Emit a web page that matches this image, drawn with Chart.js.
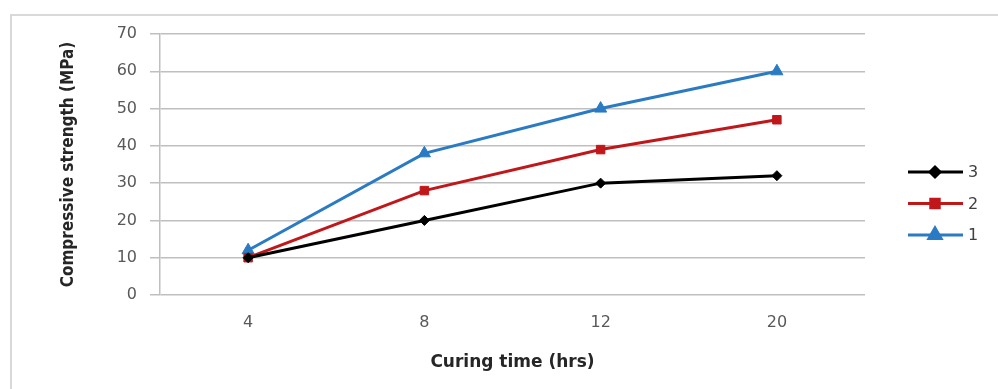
<!DOCTYPE html>
<html lang="en">
  <head>
    <meta charset="UTF-8" />
    <script src="https://cdn.jsdelivr.net/npm/chart.js"></script>
    <title>Compressive strength</title>
    <style>
      body { margin: 0; background: #fff; }
      .frame { position: absolute; left: 10px; top: 14px; width: 1000px; height: 400px; border: 2px solid #d9d9d9; }
      .wrap { position: absolute; left: 0; top: 0; width: 998px; height: 389px; }
    </style>
  </head>
  <body>
    <div class="frame"></div>
    <div class="wrap"><canvas id="myChart1"></canvas></div>
  </body>
</html>
<script>
  // dados
  const curingTimes = ["4", "8", "12", "20"];
  const serie3 = [10, 20, 30, 32];
  const serie2 = [10, 28, 39, 47];
  const serie1 = [12, 38, 50, 60];
  const seriesNames = ["3", "2", "1"];
  const yTicks = [0, 10, 20, 30, 40, 50, 60, 70];

  const cores = ["#000000", "#c0171b", "#2a7ac4"];
  const marcadores = ["rectRot", "rect", "triangle"];
  const raios = [5, 6, 7];

  // legenda no estilo do Excel (linha + marcador)
  const legendaExcel = {
    id: "legendaExcel",
    afterDraw(chart) {
      const ctx = chart.ctx;
      chart.data.datasets.forEach((ds, i) => {
        const y = 172 + i * 31.5;
        ctx.save();
        ctx.strokeStyle = ds.borderColor;
        ctx.lineWidth = 3;
        ctx.beginPath();
        ctx.moveTo(908, y);
        ctx.lineTo(963, y);
        ctx.stroke();
        ctx.fillStyle = ds.borderColor;
        ctx.strokeStyle = ds.borderColor;
        Chart.helpers.drawPoint(ctx, {
          pointStyle: ds.pointStyle,
          radius: ds.pointRadius,
          borderWidth: 1,
        }, 935, y);
        ctx.fillStyle = "#404040";
        ctx.font = "16px 'DejaVu Sans'";
        ctx.textBaseline = "middle";
        ctx.fillText(seriesNames[i], 968, y + 1);
        ctx.restore();
      });
    },
  };

  const ctx1 = document.getElementById("myChart1").getContext("2d");
  const dados = [serie3, serie2, serie1];

  new Chart(ctx1, {
    type: "line",
    data: {
      labels: curingTimes,
      datasets: dados.map((d, i) => ({
        label: seriesNames[i],
        data: d,
        borderColor: cores[i],
        backgroundColor: cores[i],
        borderWidth: 3,
        pointStyle: marcadores[i],
        pointRadius: raios[i],
        pointBorderWidth: 1,
        tension: 0,
      })),
    },
    options: {
      responsive: true,
      maintainAspectRatio: false,
      animation: false,
      layout: { padding: { left: 58, top: 34, right: 133, bottom: 12 } },
      plugins: { legend: { display: false }, tooltip: { enabled: false } },
      scales: {
        x: {
          offset: true,
          grid: { display: false, drawTicks: false },
          border: { display: false },
          ticks: { color: "#595959", font: { family: "DejaVu Sans", size: 16 }, padding: 18 },
          title: {
            display: true,
            text: "Curing time (hrs)",
            color: "#262626",
            font: { family: "DejaVu Sans", size: 17, weight: "bold" },
            padding: { top: 16 },
          },
          afterFit: (s) => { s.height = 82; },
        },
        y: {
          min: 0,
          max: 70,
          afterBuildTicks: (s) => { s.ticks = yTicks.map((v) => ({ value: v })); },
          grid: { color: "#bfbfbf", lineWidth: 1.5, tickLength: 10 },
          border: { display: true, color: "#bfbfbf", width: 1.5 },
          ticks: { color: "#595959", font: { family: "DejaVu Sans", size: 16 }, padding: 13 },
          title: {
            display: true,
            text: "Compressive strength (MPa)",
            color: "#262626",
            font: { family: "DejaVu Sans Condensed", size: 17, weight: "bold" },
            padding: 0,
          },
          afterFit: (s) => { s.width = 102; },
        },
      },
    },
    plugins: [legendaExcel],
  });
</script>
